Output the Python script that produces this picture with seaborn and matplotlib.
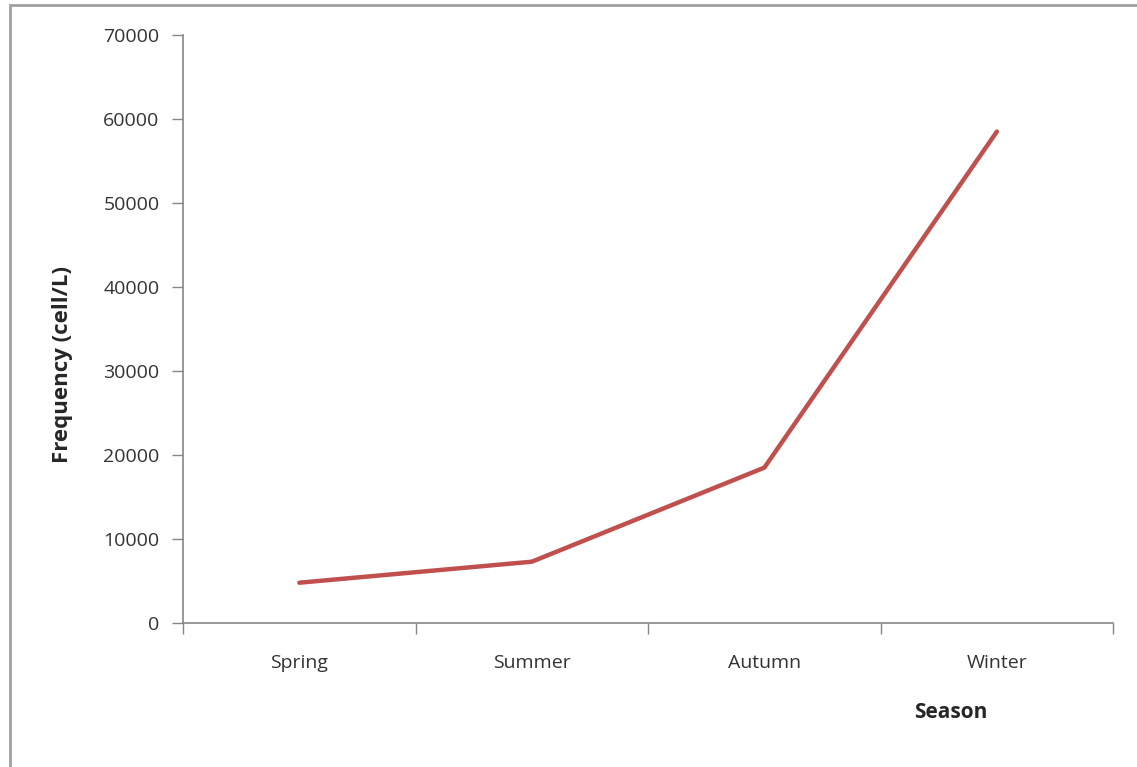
import matplotlib
matplotlib.use('Agg')
import matplotlib.pyplot as plt
import seaborn as sns
import pandas as pd
from matplotlib.patches import Rectangle
from matplotlib.ticker import FixedLocator

# data
seasons = ['Spring', 'Summer', 'Autumn', 'Winter']
frequency = [4800, 7300, 18500, 58500]
y_ticks = [0, 10000, 20000, 30000, 40000, 50000, 60000, 70000]

df = pd.DataFrame({'Season': seasons, 'Frequency': frequency})

sns.set_theme(style='white')
plt.rcParams['font.family'] = ['Open Sans', 'DejaVu Sans']

fig = plt.figure(figsize=(11.37, 7.67), dpi=100)
ax = fig.add_axes([0.161, 0.1877, 0.818, 0.7667])

sns.lineplot(data=df, x='Season', y='Frequency', color='#C0504D',
             linewidth=3.2, ax=ax, sort=False)

grey = '#868686'
ax.set_xlim(-0.5, 3.5)
ax.set_ylim(0, 70000)
ax.set_yticks(y_ticks)
ax.set_yticklabels([str(v) for v in y_ticks], fontsize=14, color='#333333')
ax.set_xticks(range(len(seasons)))
ax.set_xticklabels(seasons, fontsize=14, color='#333333')
ax.xaxis.set_minor_locator(FixedLocator([-0.5, 0.5, 1.5, 2.5, 3.5]))
ax.tick_params(axis='x', which='major', length=0, pad=22)
ax.tick_params(axis='x', which='minor', length=8, width=1, color=grey, bottom=True)
ax.tick_params(axis='y', length=8, width=1, color=grey, left=True, pad=9)

for side in ['top', 'right']:
    ax.spines[side].set_visible(False)
for side in ['left', 'bottom']:
    ax.spines[side].set_color(grey)
    ax.spines[side].set_linewidth(1.2)

ax.set_xlabel('')
ax.set_ylabel('Frequency (cell/L)', fontsize=16, fontweight='bold')
ax.yaxis.set_label_coords(-0.118, 0.44)
fig.text(0.836, 0.071, 'Season', fontsize=15, fontweight='bold', ha='center', va='center')

# outer frame of the pasted figure
fig.patches.append(Rectangle((10 / 1137, -0.05), 1.2, 1 - 5 / 767 + 0.05,
                             transform=fig.transFigure, fill=False,
                             edgecolor='#A0A0A0', linewidth=2))

fig.savefig('out.png', dpi=100)
